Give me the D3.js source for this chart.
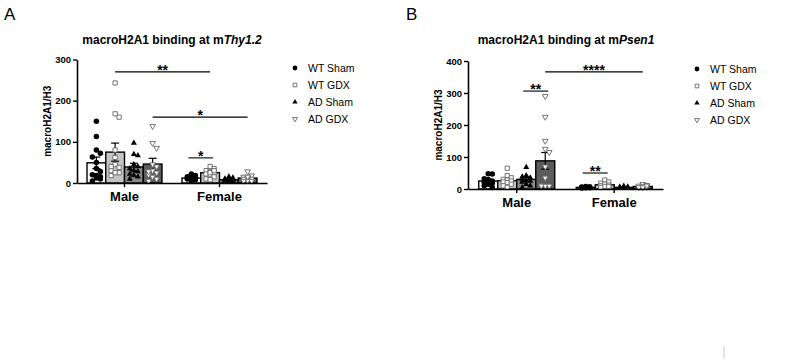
<!DOCTYPE html>
<html>
<head>
<meta charset="utf-8">
<script src="https://cdn.jsdelivr.net/npm/d3@7"></script>
<style>
  body { margin: 0; background: #fff; }
  svg { display: block; font-family: "Liberation Sans", Arial, sans-serif; }
</style>
</head>
<body>
<div class="chart"></div>
<script>
// categories
var sexes = ["Male", "Female"];
var groups = ["WT Sham", "WT GDX", "AD Sham", "AD GDX"];

// panel A : macroH2A1 at Thy1.2
var thyTicks = [0, 100, 200, 300];
var thyMaleMean = [49, 75, 39, 46];
var thyFemaleMean = [12, 25, 8, 12];
var thyMaleSem = [14, 22, 9, 14];
var thyFemaleSem = [2, 3, 1.5, 2];
var thyMalePts = [
  [150, 113, 80, 72, 63, 50, 35, 28, 20, 15, 12, 5, 18, 10],
  [243, 168, 160, 80, 62, 45, 38, 30, 25, 18, 40, 25],
  [97, 70, 67, 45, 40, 35, 28, 22, 15, 10, 30, 18],
  [138, 97, 85, 45, 40, 30, 25, 20, 15, 10, 5, 28]
];
var thyFemalePts = [
  [22, 18, 15, 13, 12, 10, 10, 8, 6, 12, 14],
  [40, 35, 30, 28, 25, 22, 20, 15, 10, 8, 25, 30],
  [15, 13, 10, 8, 7, 6, 5, 10, 5, 8, 12],
  [28, 18, 15, 12, 10, 8, 6, 5, 15, 10, 5]
];
var thySig = [
  { from: ["Male", 1], to: ["Female", 1], y: 270, label: "**" },
  { from: ["Male", 3], to: ["Female", 3], y: 160, label: "*" },
  { from: ["Female", 0], to: ["Female", 1], y: 61, label: "*" }
];

// panel B : macroH2A1 at Psen1
var psenTicks = [0, 100, 200, 300, 400];
var psenMaleMean = [25, 26, 30, 88];
var psenFemaleMean = [5, 13, 5, 8];
var psenMaleSem = [4, 5, 6, 26];
var psenFemaleSem = [1, 3, 1, 2];
var psenMalePts = [
  [48, 47, 32, 25, 22, 20, 18, 15, 10, 5, 30],
  [65, 42, 35, 30, 28, 25, 22, 20, 15, 10, 5],
  [68, 42, 35, 30, 28, 25, 22, 15, 10, 5, 38],
  [290, 225, 150, 125, 115, 70, 35, 10, 10, 12, 10]
];
var psenFemalePts = [
  [8, 7, 6, 5, 4, 3, 5, 6, 4],
  [28, 22, 18, 15, 12, 10, 8, 5, 5, 8],
  [9, 7, 6, 5, 4, 3, 5, 6],
  [15, 12, 10, 8, 6, 5, 5, 10]
];
var psenSig = [
  { from: ["Male", 2], to: ["Male", 3], y: 306, label: "**" },
  { from: ["Male", 3], to: ["Female", 3], y: 366, label: "****" },
  { from: ["Female", 0], to: ["Female", 1], y: 50, label: "**" }
];

// styles per group
var barFill = ["#ffffff", "#c4c4c4", "#8a8a8a", "#5c5c5c"];
var symbols = [d3.symbolCircle, d3.symbolSquare, d3.symbolTriangle, d3.symbolTriangle];
var symSize = [24, 18, 16, 14];
var symFill = ["#000", "#fff", "#000", "#fff"];
var symStroke = ["#000", "#666", "#000", "#666"];

var svg = d3.select(".chart").append("svg")
  .attr("width", 794)
  .attr("height", 362);

function drawPanel(cfg) {
  var g = svg.append("g");

  var y = d3.scaleLinear().domain([0, cfg.ticks[cfg.ticks.length - 1]]).range([cfg.y0, cfg.yTop]);
  var x = d3.scaleBand().domain(sexes).range([cfg.x0, cfg.x1]);
  var inner = d3.scaleBand().domain(d3.range(groups.length)).range([-cfg.groupW / 2, cfg.groupW / 2]);

  function cx(sex, i) { return x(sex) + x.bandwidth() / 2 + inner(i) + inner.bandwidth() / 2; }

  // panel letter
  svg.append("text")
    .attr("x", cfg.letterX).attr("y", 20)
    .attr("font-size", "17px")
    .text(cfg.letter);

  // title
  var t = g.append("text")
    .attr("x", cfg.titleX).attr("y", 44)
    .attr("text-anchor", "middle")
    .attr("font-weight", "bold")
    .attr("font-size", "12px");
  t.append("tspan").text("macroH2A1 binding at m");
  t.append("tspan").attr("font-style", "italic").text(cfg.gene);

  // bars, error bars, points
  sexes.forEach(function(sex) {
    var means = cfg.means[sex], sems = cfg.sems[sex], pts = cfg.pts[sex];
    groups.forEach(function(grp, i) {
      var left = x(sex) + x.bandwidth() / 2 + inner(i);
      g.append("rect")
        .attr("x", left)
        .attr("y", y(means[i]))
        .attr("width", inner.bandwidth())
        .attr("height", y(0) - y(means[i]))
        .attr("fill", barFill[i])
        .attr("stroke", "#000")
        .attr("stroke-width", 1.4);

      // error bar
      var c = cx(sex, i);
      var eb = g.append("g").attr("stroke", "#000").attr("stroke-width", 1.2);
      eb.append("line").attr("x1", c).attr("x2", c)
        .attr("y1", y(means[i] - sems[i])).attr("y2", y(means[i] + sems[i]));
      eb.append("line").attr("x1", c - 4).attr("x2", c + 4)
        .attr("y1", y(means[i] + sems[i])).attr("y2", y(means[i] + sems[i]));
      eb.append("line").attr("x1", c - 4).attr("x2", c + 4)
        .attr("y1", y(means[i] - sems[i])).attr("y2", y(means[i] - sems[i]));

      // simple beeswarm inside the bar
      var placed = [];
      var r = 2.8, step = 4, maxOff = inner.bandwidth() / 2 - 3;
      pts[i].forEach(function(v) {
        var py = y(v);
        var best = 0, bestD = -1;
        for (var k = 0; k < 9; k++) {
          var off = (k % 2 ? 1 : -1) * Math.ceil(k / 2) * step;
          if (Math.abs(off) > maxOff) continue;
          var dmin = Infinity;
          placed.forEach(function(p) {
            dmin = Math.min(dmin, Math.hypot(p[0] - off, p[1] - py));
          });
          if (dmin >= 2 * r) { best = off; bestD = Infinity; break; }
          if (dmin > bestD) { bestD = dmin; best = off; }
        }
        placed.push([best, py]);
      });
      placed.forEach(function(p) {
        g.append("path")
          .attr("d", d3.symbol().type(symbols[i]).size(symSize[i])())
          .attr("transform", "translate(" + (c + p[0]) + "," + p[1] + ")" + (i === 3 ? " rotate(180)" : ""))
          .attr("fill", symFill[i])
          .attr("stroke", symStroke[i])
          .attr("stroke-width", i % 2 ? 0.9 : 0);
      });
    });
  });

  // axes
  var yAxis = g.append("g")
    .attr("transform", "translate(" + cfg.x0 + ",0)")
    .call(d3.axisLeft(y).tickValues(cfg.ticks).tickSize(4).tickSizeOuter(0).tickPadding(2));
  yAxis.select(".domain").attr("stroke-width", 1.6);
  yAxis.selectAll(".tick line").attr("stroke-width", 1.4);
  yAxis.selectAll("text").attr("font-weight", "bold").attr("font-size", "9.5px")
    .attr("font-family", "Liberation Sans, Arial, sans-serif").attr("fill", "#000");

  var xAxis = g.append("g")
    .attr("transform", "translate(0," + cfg.y0 + ")")
    .call(d3.axisBottom(x).tickSize(4).tickSizeOuter(0).tickPadding(5));
  xAxis.select(".domain").attr("stroke-width", 1.6);
  xAxis.selectAll(".tick line").attr("stroke-width", 1.4);
  xAxis.selectAll("text").attr("font-weight", "bold").attr("font-size", "13px")
    .attr("font-family", "Liberation Sans, Arial, sans-serif").attr("fill", "#000");

  // y label
  g.append("text")
    .attr("transform", "translate(" + cfg.ylabX + "," + ((cfg.y0 + cfg.yTop) / 2) + ") rotate(-90)")
    .attr("text-anchor", "middle")
    .attr("font-weight", "bold")
    .attr("font-size", "10px")
    .text("macroH2A1/H3");

  // significance
  cfg.sig.forEach(function(s) {
    var xa = cx(s.from[0], s.from[1]), xb = cx(s.to[0], s.to[1]);
    var pad = (xb - xa) < 40 ? 3 : 0;
    g.append("line")
      .attr("x1", xa - pad).attr("x2", xb + pad)
      .attr("y1", y(s.y)).attr("y2", y(s.y))
      .attr("stroke", "#000").attr("stroke-width", 1.1);
    g.append("text")
      .attr("x", (xa + xb) / 2).attr("y", y(s.y) + 3)
      .attr("text-anchor", "middle")
      .attr("font-weight", "bold")
      .attr("font-size", "14px")
      .text(s.label);
  });

  // legend
  var lg = g.append("g").attr("transform", "translate(" + cfg.legX + "," + cfg.legY + ")");
  groups.forEach(function(grp, i) {
    var row = lg.append("g").attr("transform", "translate(0," + (i * 17) + ")");
    row.append("path")
      .attr("d", d3.symbol().type(symbols[i]).size(symSize[i] * 0.75)())
      .attr("transform", i === 3 ? "rotate(180)" : null)
      .attr("fill", symFill[i])
      .attr("stroke", symStroke[i])
      .attr("stroke-width", i % 2 ? 0.9 : 0);
    row.append("text")
      .attr("x", 13).attr("y", 4)
      .attr("font-size", "10.5px")
      .text(grp);
  });
}

drawPanel({
  letter: "A", letterX: 4, gene: "Thy1.2", titleX: 172,
  x0: 77, x1: 267, y0: 183, yTop: 59.5, groupW: 75, ylabX: 51,
  ticks: thyTicks,
  means: { Male: thyMaleMean, Female: thyFemaleMean },
  sems: { Male: thyMaleSem, Female: thyFemaleSem },
  pts: { Male: thyMalePts, Female: thyFemalePts },
  sig: thySig, legX: 295, legY: 68
});

drawPanel({
  letter: "B", letterX: 406, gene: "Psen1", titleX: 566,
  x0: 468, x1: 663, y0: 189, yTop: 61, groupW: 76, ylabX: 442,
  ticks: psenTicks,
  means: { Male: psenMaleMean, Female: psenFemaleMean },
  sems: { Male: psenMaleSem, Female: psenFemaleSem },
  pts: { Male: psenMalePts, Female: psenFemalePts },
  sig: psenSig, legX: 697, legY: 69
});

// small grey mark in the lower right corner of the figure
svg.append("line")
  .attr("x1", 724).attr("x2", 724)
  .attr("y1", 346).attr("y2", 359)
  .attr("stroke", "#c8c8c8").attr("stroke-width", 1);
</script>
</body>
</html>
